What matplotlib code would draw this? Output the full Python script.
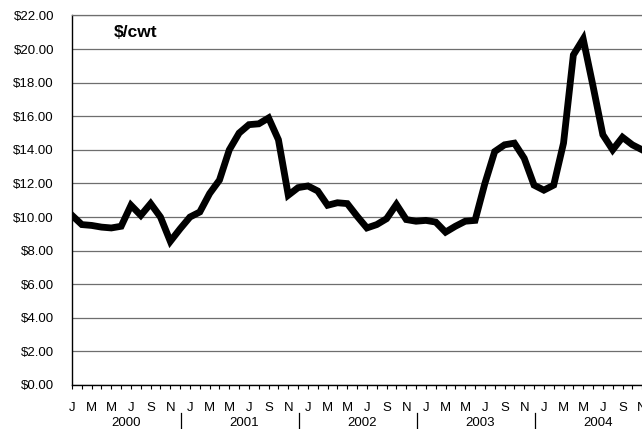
import matplotlib
matplotlib.use("Agg")
import matplotlib.pyplot as plt
from matplotlib.lines import Line2D

plt.rcParams['font.family'] = ['Liberation Sans', 'DejaVu Sans']

# monthly price, Jan 2000 .. Nov 2004
prices = [10.1, 9.55, 9.5, 9.4, 9.35, 9.45, 10.7, 10.1, 10.8, 10.0, 8.55, 9.3,
          10.0, 10.3, 11.4, 12.2, 14.0, 15.0, 15.5, 15.55, 15.9, 14.6, 11.3, 11.75,
          11.85, 11.55, 10.7, 10.85, 10.8, 10.05, 9.35, 9.55, 9.9, 10.75, 9.85, 9.75,
          9.8, 9.7, 9.1, 9.45, 9.75, 9.8, 12.0, 13.9, 14.3, 14.4, 13.5, 11.9,
          11.6, 11.9, 14.4, 19.65, 20.6, 17.8, 14.9, 14.0, 14.75, 14.3, 14.0]
month_letters = ['J', '', 'M', '', 'M', '', 'J', '', 'S', '', 'N', '']
years = ['2000', '2001', '2002', '2003', '2004']
y_ticks = [0, 2, 4, 6, 8, 10, 12, 14, 16, 18, 20, 22]

fig = plt.figure(figsize=(6.42, 4.29), dpi=100)
ax = fig.add_axes([72 / 642, 0.1026, 580 / 642, 0.8613])

ax.plot(range(len(prices)), prices, color='black', linewidth=4.9,
        solid_joinstyle='miter', zorder=3)

ax.set_xlim(0, 59)
ax.set_ylim(0, 22)
ax.set_yticks(y_ticks)
ax.set_yticklabels(['$%.2f' % v for v in y_ticks], fontsize=9.5)
ax.yaxis.grid(True, color='#6e6e6e', linewidth=0.9)
ax.tick_params(axis='y', length=0, pad=13)

n_months = 12 * len(years)
ax.set_xticks(range(n_months))
ax.set_xticklabels(month_letters * len(years), fontsize=9.5)
ax.tick_params(axis='x', length=3, width=0.8, pad=9, direction='out')

ax.spines['right'].set_visible(False)
ax.spines['top'].set_color('#6e6e6e')
ax.spines['top'].set_linewidth(0.9)
ax.spines['left'].set_linewidth(1.0)
ax.spines['bottom'].set_linewidth(1.0)

for k, yr in enumerate(years):
    ax.text(5.5 + 12 * k, -0.102, yr, transform=ax.get_xaxis_transform(),
            ha='center', va='center', fontsize=9.5, clip_on=False)
    if k > 0:
        xd = 12 * k - 0.9
        ax.add_line(Line2D([xd, xd], [-0.075, -0.118], color='black',
                           linewidth=0.9, transform=ax.get_xaxis_transform(),
                           clip_on=False))

ax.text(0.072, 0.953, '$/cwt', transform=ax.transAxes, fontsize=12.5,
        fontweight='bold', ha='left', va='center')

fig.savefig('out.png', dpi=100)
